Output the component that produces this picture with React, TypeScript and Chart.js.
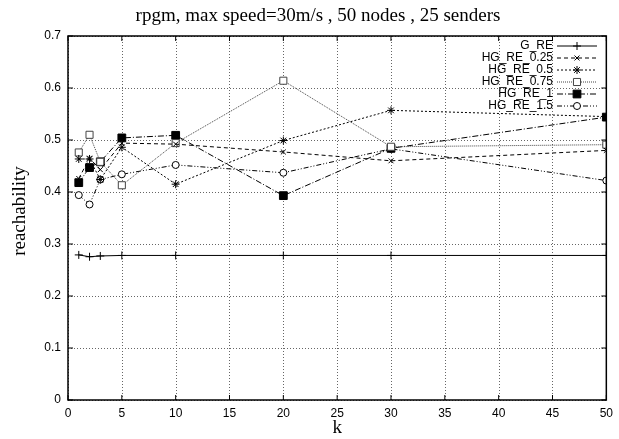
import React, { useEffect, useRef } from "react";
import { Chart, registerables } from "chart.js";
import { drawPoint } from "chart.js/helpers";

Chart.register(...registerables);

const titleText = "rpgm, max speed=30m/s , 50 nodes , 25 senders";
const xLabel = "k";
const yLabel = "reachability";

const ks = [1, 2, 3, 5, 10, 20, 30, 50];
const gRe = [0.279, 0.2755, 0.277, 0.278, 0.278, 0.278, 0.278, 0.278];
const hg025 = [0.426, 0.465, 0.443, 0.494, 0.492, 0.477, 0.46, 0.48];
const hg05 = [0.4635, 0.4635, 0.424, 0.486, 0.415, 0.499, 0.557, 0.545];
const hg075 = [0.476, 0.51, 0.458, 0.413, 0.494, 0.614, 0.487, 0.491];
const hg1 = [0.418, 0.447, 0.458, 0.504, 0.509, 0.393, 0.484, 0.544];
const hg15 = [0.394, 0.376, 0.424, 0.434, 0.452, 0.437, 0.483, 0.422];

const seriesNames = ["G_RE", "HG_RE_0.25", "HG_RE_0.5", "HG_RE_0.75", "HG_RE_1", "HG_RE_1.5"];
const seriesValues = [gRe, hg025, hg05, hg075, hg1, hg15];

const styles = [
  { dash: [], marker: "cross", fill: "#000", color: "#000", r: 4 },
  { dash: [4, 3], marker: "crossRot", fill: "#000", color: "#000", r: 3.5 },
  { dash: [2, 2], marker: "star", fill: "#000", color: "#000", r: 4 },
  { dash: [1, 1], marker: "rect", fill: "#fff", color: "#444", r: 5 },
  { dash: [6, 2, 1, 2], marker: "rect", fill: "#000", color: "#000", r: 5.5 },
  { dash: [5, 2, 1, 2, 1, 2], marker: "circle", fill: "#fff", color: "#000", r: 3.5 },
];

const xTicks = [0, 5, 10, 15, 20, 25, 30, 35, 40, 45, 50];
const yTicks = [0, 0.1, 0.2, 0.3, 0.4, 0.5, 0.6, 0.7];

const SANS = "'Liberation Sans', Arial, sans-serif";
const SERIF = "'Liberation Serif', 'Times New Roman', serif";

const gridPlugin = {
  id: "dotgrid",
  beforeDatasetsDraw(chart: any) {
    const ctx = chart.ctx;
    const a = chart.chartArea;
    const xs = chart.scales.x;
    const ys = chart.scales.y;
    ctx.save();
    ctx.strokeStyle = "#666";
    ctx.lineWidth = 1;
    ctx.setLineDash([1, 2]);
    ctx.beginPath();
    xTicks.forEach((t) => {
      const px = Math.round(xs.getPixelForValue(t)) + 0.5;
      ctx.moveTo(px, a.top);
      ctx.lineTo(px, a.bottom);
    });
    yTicks.forEach((t) => {
      const py = Math.round(ys.getPixelForValue(t)) + 0.5;
      ctx.moveTo(a.left, py);
      ctx.lineTo(a.right, py);
    });
    ctx.stroke();
    ctx.restore();
  },
};

const decorPlugin = {
  id: "decor",
  afterDraw(chart: any) {
    const ctx = chart.ctx;
    const a = chart.chartArea;
    const xs = chart.scales.x;
    const ys = chart.scales.y;
    ctx.save();
    // frame
    ctx.strokeStyle = "#000";
    ctx.lineWidth = 1.5;
    ctx.setLineDash([]);
    ctx.strokeRect(a.left, a.top, a.right - a.left, a.bottom - a.top);
    // inward ticks
    ctx.lineWidth = 1;
    ctx.beginPath();
    xTicks.forEach((t) => {
      const px = xs.getPixelForValue(t);
      ctx.moveTo(px, a.bottom);
      ctx.lineTo(px, a.bottom - 5);
      ctx.moveTo(px, a.top);
      ctx.lineTo(px, a.top + 5);
    });
    yTicks.forEach((t) => {
      const py = ys.getPixelForValue(t);
      ctx.moveTo(a.left, py);
      ctx.lineTo(a.left + 5, py);
      ctx.moveTo(a.right, py);
      ctx.lineTo(a.right - 5, py);
    });
    ctx.stroke();
    // title
    ctx.fillStyle = "#000";
    ctx.font = "19px " + SERIF;
    ctx.textAlign = "center";
    ctx.textBaseline = "middle";
    ctx.fillText(titleText, 318, 16);
    // x label
    ctx.fillText(xLabel, (a.left + a.right) / 2, 428);
    // y label
    ctx.save();
    ctx.translate(20, 211);
    ctx.rotate(-Math.PI / 2);
    ctx.fillText(yLabel, 0, 0);
    ctx.restore();
    // legend
    ctx.font = "12px " + SANS;
    ctx.textAlign = "right";
    seriesNames.forEach((name, i) => {
      const y = 46 + i * 12;
      const st = styles[i];
      ctx.fillStyle = "#000";
      ctx.fillText(name, 553, y);
      ctx.strokeStyle = st.color;
      ctx.lineWidth = 1;
      ctx.setLineDash(st.dash);
      ctx.beginPath();
      ctx.moveTo(557, y);
      ctx.lineTo(597, y);
      ctx.stroke();
      ctx.setLineDash([]);
      ctx.fillStyle = st.fill;
      ctx.strokeStyle = st.color;
      drawPoint(ctx, { pointStyle: st.marker, radius: st.r, rotation: 0, borderWidth: 1 }, 577, y);
    });
    ctx.restore();
  },
};

export default function App() {
  const ref = useRef<HTMLCanvasElement>(null);
  useEffect(() => {
    if (!ref.current) return;
    const chart = new Chart(ref.current, {
      type: "line",
      data: {
        datasets: seriesNames.map((name, i) => ({
          label: name,
          data: ks.map((k, j) => ({ x: k, y: seriesValues[i][j] })),
          borderColor: styles[i].color,
          backgroundColor: styles[i].fill,
          borderWidth: 1,
          borderDash: styles[i].dash,
          pointStyle: styles[i].marker as any,
          pointRadius: styles[i].r,
          pointBorderWidth: 1,
          pointBorderColor: styles[i].color,
          pointBackgroundColor: styles[i].fill,
          tension: 0,
          fill: false,
        })),
      },
      options: {
        animation: false,
        responsive: false,
        devicePixelRatio: 1,
        layout: { padding: { left: 8, top: 36, right: 9, bottom: 0 } },
        plugins: {
          legend: { display: false },
          title: { display: false },
          tooltip: { enabled: false },
        },
        scales: {
          x: {
            type: "linear",
            min: 0,
            max: 50,
            afterFit: (s: any) => { s.height = 39; },
            afterBuildTicks: (s: any) => { s.ticks = xTicks.map((v) => ({ value: v })); },
            ticks: { color: "#000", font: { family: SANS, size: 12 }, padding: 6, maxRotation: 0 },
            grid: { display: false, drawTicks: false },
            border: { display: false },
          },
          y: {
            type: "linear",
            min: 0,
            max: 0.7,
            afterFit: (s: any) => { s.width = 60; },
            afterBuildTicks: (s: any) => { s.ticks = yTicks.map((v) => ({ value: v })); },
            ticks: {
              color: "#000",
              font: { family: SANS, size: 12 },
              padding: 7,
              callback: (v: any) => String(Math.round(Number(v) * 10) / 10),
            },
            grid: { display: false, drawTicks: false },
            border: { display: false },
          },
        },
      },
      plugins: [gridPlugin, decorPlugin],
    });
    return () => chart.destroy();
  }, []);
  return (
    <div style={{ position: "absolute", left: 0, top: 0, width: 619, height: 439, background: "#fff" }}>
      <canvas ref={ref} width={619} height={439} style={{ display: "block" }} />
    </div>
  );
}
